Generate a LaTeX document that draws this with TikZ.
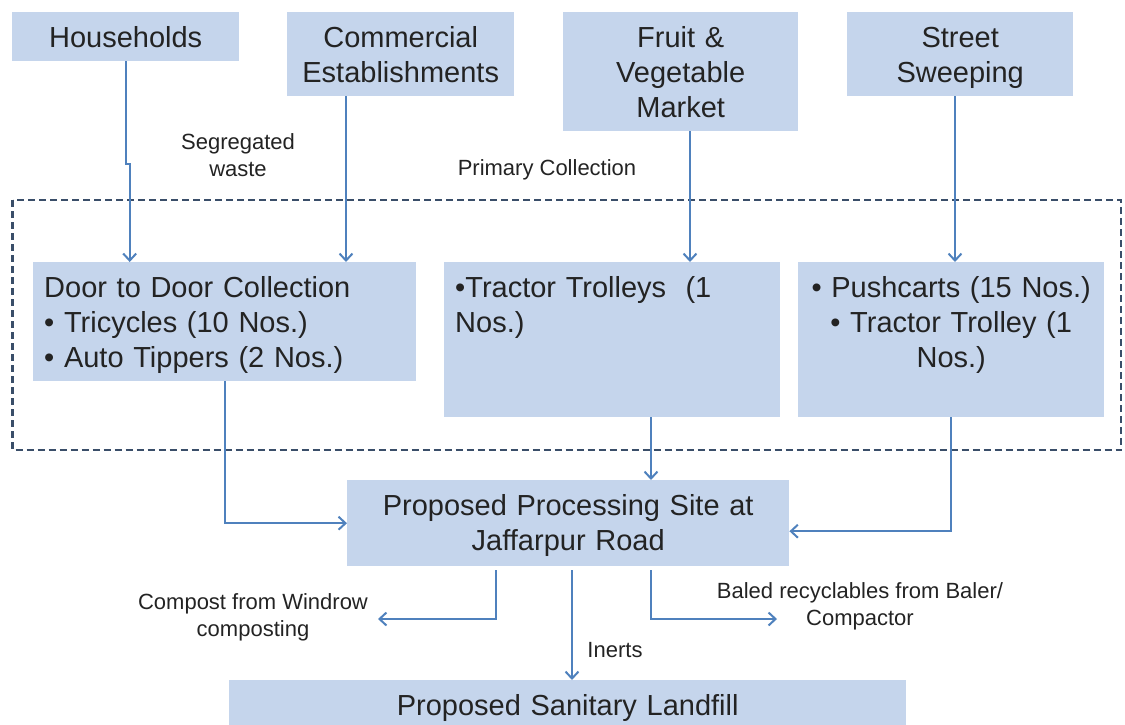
\documentclass[tikz,border=0pt]{standalone}
\usepackage{fontspec}
\setmainfont{Liberation Sans}
\usepackage{tikz}
\usetikzlibrary{arrows.meta}
\usetikzlibrary{calc}

\definecolor{boxblue}{RGB}{197,213,236}
\definecolor{flowblue}{RGB}{79,129,189}
\definecolor{dashblue}{RGB}{58,78,105}
\definecolor{inkgray}{RGB}{35,35,35}

\newcommand{\boxfont}{\fontsize{29pt}{35pt}\selectfont}
\newcommand{\lblfont}{\fontsize{22pt}{27pt}\selectfont}

\tikzset{
  wastebox/.style={fill=boxblue, anchor=north west, inner xsep=11pt, inner ysep=13pt,
    text height=22pt, font=\boxfont, text=inkgray, align=center},
  flow/.style={draw=flowblue, line width=2pt, -{Straight Barb[length=7pt,width=13pt]}},
  lbl/.style={font=\lblfont, text=inkgray, align=center, inner sep=0pt},
}

\begin{document}
\begin{tikzpicture}[x=1pt, y=-1pt]
  \path[use as bounding box, clip] (0,0) rectangle (1125,724);

  % primary collection area
  \draw[dashblue, line width=2.4pt, dash pattern=on 7pt off 4pt] (12.5,200) rectangle (1121,450);

  % sources
  \node[wastebox, text width=205pt, text depth=1pt]  (hh)     at (12,12)  {Households};
  \node[wastebox, text width=205pt, text depth=36pt] (comm)   at (287,12) {Commercial\\Establishments};
  \node[wastebox, text width=213pt, text depth=71pt] (fruit)  at (563,12) {Fruit \&\\Vegetable\\Market};
  \node[wastebox, text width=204pt, text depth=36pt] (street) at (847,12) {Street\\Sweeping};

  % collection vehicles
  \node[wastebox, text width=361pt, text depth=71pt, align=left] (door) at (33,262)
    {Door to Door Collection\\• Tricycles (10 Nos.)\\• Auto Tippers (2 Nos.)};
  \node[wastebox, text width=314pt, text depth=107pt, align=left] (tractor) at (444,262)
    {•Tractor Trolleys\ \ (1\\Nos.)};
  \node[wastebox, text width=284pt, text depth=107pt] (push) at (798,262)
    {• Pushcarts (15 Nos.)\\• Tractor Trolley (1\\Nos.)};

  % processing and disposal
  \node[wastebox, text width=420pt, text depth=38pt] (proc) at (347,480)
    {Proposed Processing Site at\\Jaffarpur Road};
  \node[wastebox, text width=655pt, text depth=40pt] (land) at (229,680)
    {Proposed Sanitary Landfill};

  % labels
  \node[lbl] (seg)   at (238,155) {Segregated\\waste};
  \node[lbl] (prim)  at (547,170) {Primary Collection};
  \node[lbl] (cmp)   at (253,617) {Compost from Windrow\\composting};
  \node[lbl] (inert) at (615,650) {Inerts};
  \node[lbl] (bal)   at (860,606) {Baled recyclables from Baler/\\Compactor};

  \coordinate (cmpend) at (378,619);
  \coordinate (balend) at (777,619);

  % flows
  \draw[flow] (hh.south) -- ++(0,103) -| ([xshift=4pt]hh.south |- door.north);
  \draw[flow] (comm.south -| 346,0) -- (door.north -| 346,0);
  \draw[flow] (fruit.south -| 690,0) -- (tractor.north -| 690,0);
  \draw[flow] (street.south -| 955,0) -- (push.north -| 955,0);

  \draw[flow] (door.south) |- (proc.west);
  \draw[flow] (tractor.south -| 651,0) -- (proc.north -| 651,0);
  \draw[flow] (push.south) |- ([yshift=-8pt]proc.east);

  \draw[flow] ([yshift=-4pt]proc.south -| 496,0) |- (cmpend);
  \draw[flow] ([yshift=-4pt]proc.south -| 572,0) -- (land.north -| 572,0);
  \draw[flow] ([yshift=-4pt]proc.south -| 651,0) |- (balend);
\end{tikzpicture}
\end{document}
